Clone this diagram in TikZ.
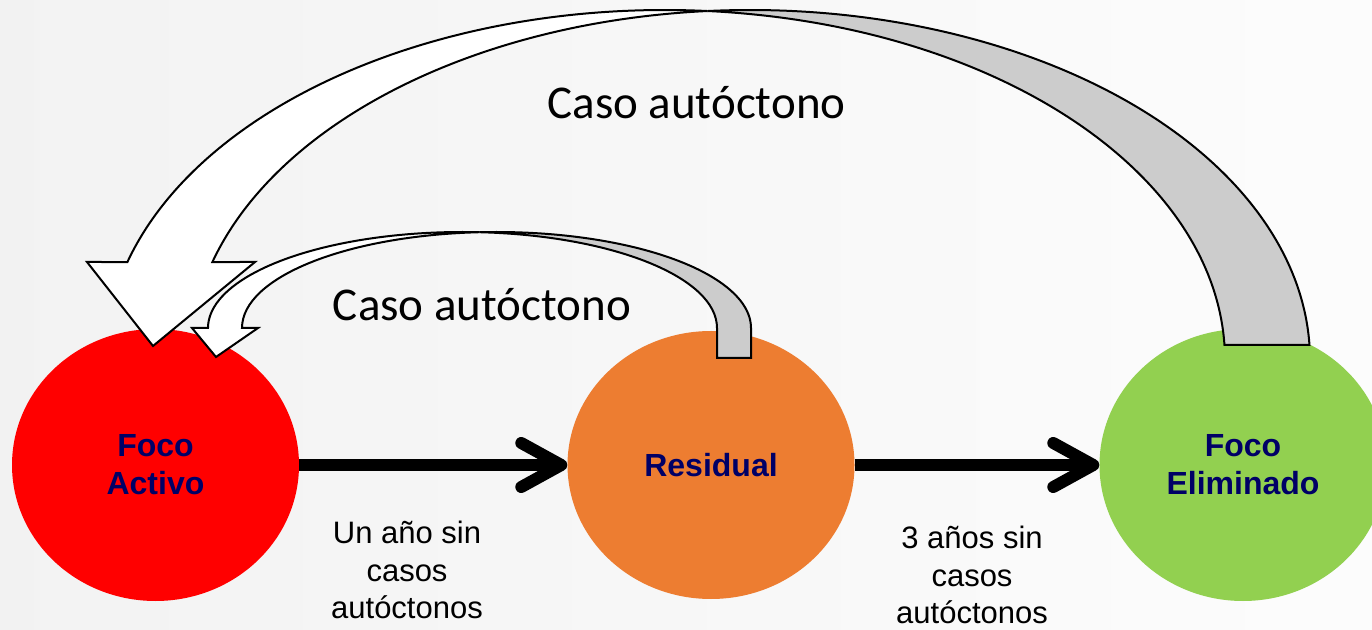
\documentclass[tikz,border=0pt]{standalone}
\usepackage{fontspec}
\setmainfont{Liberation Sans}
\newfontfamily\calibri{Carlito}
\usetikzlibrary{shapes.geometric,arrows.meta}
\definecolor{focusnavy}{HTML}{000066}
\definecolor{focusred}{HTML}{FF0000}
\definecolor{focusorange}{HTML}{ED7D31}
\definecolor{focusgreen}{HTML}{92D050}

\begin{document}
\begin{tikzpicture}[x=1pt,y=1pt,
    focus/.style={ellipse,inner sep=0pt,minimum width=287pt,minimum height=272pt,
      align=center,text=focusnavy,font=\bfseries\fontsize{32}{38}\selectfont},
    flow/.style={line width=12pt,-{Straight Barb[length=40pt,width=44pt,round]}},
    note/.style={align=center,inner sep=0pt,font=\fontsize{31}{37.5}\selectfont},
    caso/.style={anchor=base,inner sep=0pt,font=\calibri\fontsize{47}{56}\selectfont},
    band/.style={line width=2pt,line join=miter}]
    \useasboundingbox (0,0) rectangle (1372,629);
    \clip (0,0) rectangle (1372,629);
    \shade[left color=black!5,right color=black!1] (0,0) rectangle (1372,629);

    \node[focus,fill=focusred] (activo) at (155.5,164) {Foco\\Activo};
    \node[focus,fill=focusorange,minimum height=268pt] (residual) at (711,164) {Residual};
    \node[focus,fill=focusgreen] (eliminado) at (1243,164) {Foco\\Eliminado};

    \draw[flow] (activo) -- (residual);
    \draw[flow] (residual) -- (eliminado);

    \node[note] (unano) at (407,59) {Un año sin\\casos\\autóctonos};
    \node[note] (tresanos) at (972,54) {3 años sin\\casos\\autóctonos};

    \draw[band,fill=black!20] ([shift={(750,269)}]94.35:560pt and 350pt)
      arc[start angle=94.35,end angle=2.46,x radius=560pt,y radius=350pt]
      -- ([shift={(665,269)}]2.46:560pt and 350pt)
      arc[start angle=2.46,end angle=85.65,x radius=560pt,y radius=350pt] -- cycle;
    \draw[band,fill=white] ([shift={(665,269)}]85.65:560pt and 350pt)
      arc[start angle=85.65,end angle=163.74,x radius=560pt,y radius=350pt]
      -- (87,367) -- (153,283) -- (255,367)
      -- ([shift={(750,269)}]163.74:560pt and 350pt)
      arc[start angle=163.74,end angle=94.35,x radius=560pt,y radius=350pt] -- cycle;

    \draw[band,fill=black!20] ([shift={(496.5,301)}]93.83:254.5pt and 96pt)
      arc[start angle=93.83,end angle=0,x radius=254.5pt,y radius=96pt]
      -- (751,271) -- (717,271) -- (717,301)
      arc[start angle=0,end angle=86.17,x radius=254.5pt,y radius=96pt] -- cycle;
    \draw[band,fill=white] ([shift={(462.5,301)}]86.17:254.5pt and 96pt)
      arc[start angle=86.17,end angle=180,x radius=254.5pt,y radius=96pt]
      -- (192,301) -- (216,272) -- (258,301) -- (242,301)
      arc[start angle=180,end angle=93.83,x radius=254.5pt,y radius=96pt] -- cycle;

    \node[caso] (casoarriba) at (696.5,510) {Caso autóctono};
    \node[caso] (casomedio) at (482,308) {Caso autóctono};
\end{tikzpicture}
\end{document}
